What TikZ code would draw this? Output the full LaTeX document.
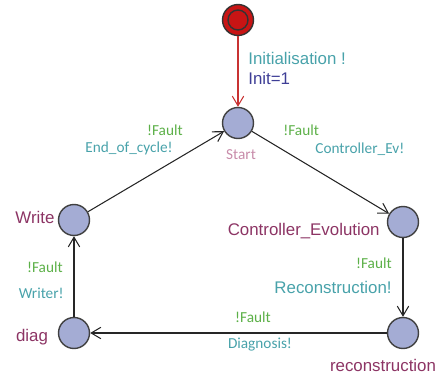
\documentclass[tikz,border=0pt]{standalone}
\usepackage{fontspec}
\newfontfamily\calfont{Carlito}
\newfontfamily\arialfont{Liberation Sans}
\usetikzlibrary{arrows.meta}
\definecolor{syncol}{RGB}{72,162,170}
\definecolor{guardcol}{RGB}{92,176,72}
\definecolor{namecol}{RGB}{140,52,100}
\definecolor{assigncol}{RGB}{62,62,150}
\definecolor{startcol}{RGB}{200,140,170}
\definecolor{locfill}{RGB}{164,172,212}
\definecolor{initfill}{RGB}{200,20,20}
\definecolor{initarrow}{RGB}{200,50,50}
\tikzset{
  loc/.style={circle, draw=black!75, fill=locfill, minimum size=0.62cm, inner sep=0pt, thick},
  guard/.style={inner sep=0pt, text=guardcol, font=\calfont\fontsize{8.7}{10}\selectfont},
  sync/.style={inner sep=0pt, text=syncol, font=\calfont\fontsize{8.7}{10}\selectfont},
  bigsync/.style={inner sep=0pt, text=syncol, font=\arialfont\fontsize{9.6}{11}\selectfont},
  locname/.style={inner sep=0pt, text=namecol, font=\arialfont\fontsize{9.6}{11}\selectfont},
  trans/.style={semithick, black!85, -{Straight Barb[length=5.5pt,width=6.5pt]}}
}
\begin{document}
\begin{tikzpicture}[x=0.02cm, y=-0.02cm]
\useasboundingbox (0,0) rectangle (442,378);
% locations
\node[circle, draw=black!80, fill=initfill, minimum size=0.62cm, inner sep=0pt, thick] (init) at (238,20) {};
\draw[black!80, thick] (init.center) circle (10);
\node[loc] (start) at (238,123) {};
\node[loc] (ctrl) at (403,222) {};
\node[loc] (recon) at (403,333) {};
\node[loc] (diag) at (74,333) {};
\node[loc] (write) at (74,220) {};
% location names
\node[inner sep=0pt, text=startcol, font=\calfont\fontsize{8.7}{10}\selectfont] (startname) at (241,155) {Start};
\node[locname, anchor=east] (ctrlname) at (380,231) {Controller\_Evolution};
\node[locname] (reconname) at (383,365) {reconstruction};
\node[locname] (diagname) at (32,337) {diag};
\node[locname] (writename) at (35,217) {Write};
% transitions
\draw[initarrow, semithick, -{Straight Barb[length=5.5pt,width=6.5pt]}] (init) -- (start);
\draw[trans] (start) -- (ctrl);
\draw[trans] (ctrl) -- (recon);
\draw[trans] (recon) -- (diag);
\draw[trans] (diag) -- (write);
\draw[trans] (write) -- (start);
% labels
\node[bigsync, anchor=west] (initsync) at (248,58) {Initialisation !};
\node[inner sep=0pt, text=assigncol, font=\arialfont\fontsize{9.6}{11}\selectfont, anchor=west] (initassign) at (248,78) {Init=1};
\node[guard, anchor=west] (g1) at (283,130) {!Fault};
\node[sync, anchor=west] (s1) at (315,149) {Controller\_Ev!};
\node[guard, anchor=east] (g2) at (392,263) {!Fault};
\node[bigsync, anchor=east] (s2) at (392,287) {Reconstruction!};
\node[guard] (g3) at (253,317) {!Fault};
\node[sync] (s3) at (260,345) {Diagnosis!};
\node[guard, anchor=east] (g4) at (63,267) {!Fault};
\node[sync, anchor=east] (s4) at (64,293) {Writer!};
\node[guard, anchor=east] (g5) at (183,130) {!Fault};
\node[sync, anchor=east] (s5) at (173,148) {End\_of\_cycle!};
\end{tikzpicture}
\end{document}
